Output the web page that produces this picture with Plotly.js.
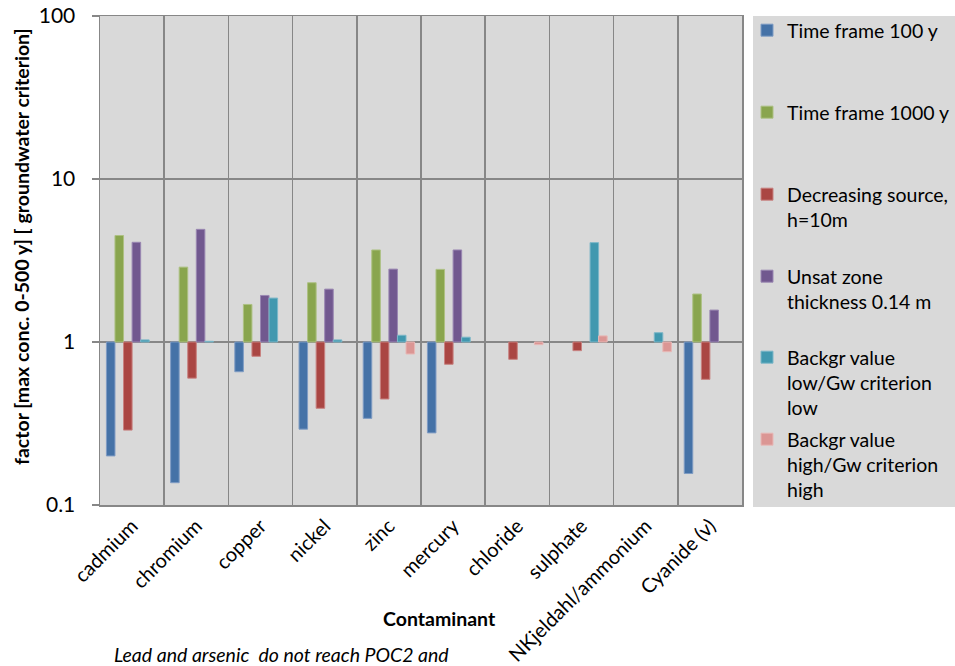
<!DOCTYPE html>
<html>
<head>
<meta charset="utf-8">
<script src="https://cdn.plot.ly/plotly-3.0.1.min.js"></script>
<style>html,body{margin:0;padding:0;background:#fff;}#chart{width:955px;height:666px;}</style>
</head>
<body>
<div id="chart"></div>
<script>
const categories = ["cadmium","chromium","copper","nickel","zinc","mercury","chloride","sulphate","NKjeldahl/ammonium","Cyanide (v)"];
const seriesNames = ["Time frame 100 y","Time frame 1000 y","Decreasing source,<br>h=10m","Unsat zone<br>thickness 0.14 m","Backgr value<br>low/Gw criterion<br>low","Backgr value<br>high/Gw criterion<br>high"];
const tf100 = [0.2, 0.137, 0.657, 0.292, 0.34, 0.277, null, null, null, 0.156];
const tf1000 = [4.5, 2.88, 1.70, 2.31, 3.67, 2.79, null, null, null, 1.97];
const decSource = [0.288, 0.60, 0.817, 0.392, 0.447, 0.73, 0.783, 0.885, null, 0.59];
const unsatZone = [4.09, 4.91, 1.93, 2.11, 2.8, 3.67, null, null, null, 1.57];
const bgLow = [1.03, 1.01, 1.86, 1.03, 1.10, 1.07, null, 4.07, 1.14, null];
const bgHigh = [null, null, null, null, 0.844, null, 0.963, 1.09, 0.872, null];
const yTickVals = [0.1, 1, 10, 100];
const yTickText = ["0.1", "1", "10", "100"];
const xTitle = "Contaminant";
const yTitle = "factor [max conc. 0-500 y] [ groundwater criterion]";
const noteText = "Lead and arsenic  do not reach POC2 and";

const colors = ["#4572A7","#89A54E","#AA4643","#71588F","#4198AF","#DB9694"];
const edges = ["#7f9cc4","#adc183","#c88280","#9a87b2","#7cb7c8","#e8b8b6"];
const allSeries = [tf100, tf1000, decSource, unsatZone, bgLow, bgHigh];
const base = 1;

const plotL = 100, plotR = 742, plotT = 16, plotB = 505;
const W = 955, H = 666;
function px2paperY(py){ return (plotB - py)/(plotB - plotT); }
function px2paperX(px){ return (px - plotL)/(plotR - plotL); }
function cx(px){ return px / W; }
function cy(py){ return 1 - py / H; }

const legendTops = [11, 93, 175, 257, 338, 420];

const traces = allSeries.map((vals, i) => ({
  type: "bar",
  name: seriesNames[i],
  x: categories,
  y: vals.map(v => v === null ? null : v - base),
  base: base,
  marker: {color: colors[i], line: {color: edges[i], width: 1}},
  legend: i === 0 ? "legend" : "legend" + (i + 1),
  hoverinfo: "skip"
}));

const fam = "Lato, 'Open Sans', sans-serif";
const font = {family: fam, size: 19.5, color: "#000"};
const layout = {
  width: W, height: H,
  margin: {l: plotL, r: W - plotR, t: plotT, b: H - plotB},
  paper_bgcolor: "#fff",
  plot_bgcolor: "#d9d9d9",
  font: font,
  barmode: "group",
  bargap: 0.2,
  bargroupgap: 0,
  xaxis: {
    type: "category",
    tickson: "boundaries",
    showgrid: true, gridcolor: "#878787", gridwidth: 1.5,
    showline: true, linecolor: "#878787", linewidth: 1.5, mirror: true,
    ticks: "", tickangle: -45,
    tickfont: {family: fam, size: 20, color: "#000"},
    automargin: false
  },
  yaxis: {
    type: "log",
    range: [-1, 2],
    tickvals: yTickVals, ticktext: yTickText,
    showgrid: true, gridcolor: "#878787", gridwidth: 1.5,
    showline: true, linecolor: "#878787", linewidth: 1.5, mirror: true,
    ticks: "outside", ticklen: 7, tickcolor: "#878787", tickwidth: 1.5,
    ticklabelstandoff: 12,
    tickfont: {family: fam, size: 21, color: "#000"},
    automargin: false
  },
  shapes: [{
    type: "rect", xref: "paper", yref: "paper",
    x0: px2paperX(753), x1: px2paperX(955), y0: px2paperY(507), y1: px2paperY(16),
    fillcolor: "#d9d9d9", line: {width: 0}, layer: "below"
  }],
  annotations: [
    {
      xref: "paper", yref: "paper",
      x: px2paperX(112), y: px2paperY(654),
      xanchor: "left", yanchor: "middle", showarrow: false,
      text: "<i>" + noteText + "</i>",
      font: {family: fam, size: 19.5, color: "#000"}
    },
    {
      xref: "paper", yref: "paper",
      x: px2paperX(440), y: px2paperY(618),
      xanchor: "center", yanchor: "middle", showarrow: false,
      text: "<b>" + xTitle + "</b>",
      font: {family: fam, size: 19.5, color: "#000"}
    },
    {
      xref: "paper", yref: "paper",
      x: px2paperX(21), y: px2paperY(247),
      xanchor: "center", yanchor: "middle", showarrow: false,
      textangle: -90,
      text: "<b>" + yTitle + "</b>",
      font: {family: fam, size: 19.5, color: "#000"}
    }
  ],
  showlegend: true
};
legendTops.forEach((t, i) => {
  const key = i === 0 ? "legend" : "legend" + (i + 1);
  layout[key] = {
    xref: "container", yref: "container",
    x: cx(747), xanchor: "left",
    y: cy(t), yanchor: "top",
    bgcolor: "rgba(0,0,0,0)", borderwidth: 0,
    font: font, valign: "top",
    itemclick: false, itemdoubleclick: false
  };
});

Plotly.newPlot("chart", traces, layout, {displayModeBar: false, staticPlot: true});
</script>
</body>
</html>
